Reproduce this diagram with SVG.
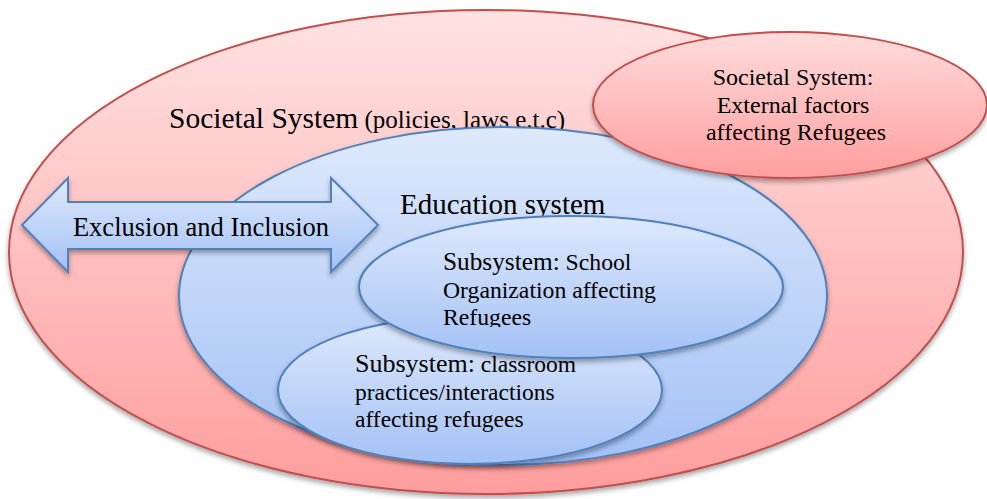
<svg xmlns="http://www.w3.org/2000/svg" width="987" height="499" viewBox="0 0 987 499">
  <defs>
    <linearGradient id="redFill" x1="0" y1="0" x2="0" y2="1">
      <stop offset="0" stop-color="#ffe2e2"/>
      <stop offset="1" stop-color="#ff9d9d"/>
    </linearGradient>
    <linearGradient id="redFillSmall" x1="0" y1="0" x2="0" y2="1">
      <stop offset="0" stop-color="#ffdcdc"/>
      <stop offset="1" stop-color="#ff9e9e"/>
    </linearGradient>
    <linearGradient id="blueFill" x1="0" y1="0" x2="0" y2="1">
      <stop offset="0" stop-color="#dee9fc"/>
      <stop offset="1" stop-color="#a3c1f5"/>
    </linearGradient>
    <filter id="shadow" x="-10%" y="-10%" width="120%" height="125%">
      <feDropShadow dx="0" dy="3" stdDeviation="2.5" flood-color="#000" flood-opacity="0.35"/>
    </filter>
    <clipPath id="schoolTextClip">
      <rect x="359" y="216" width="424" height="111"/>
    </clipPath>
    <style>
      .red { fill: url(#redFill); stroke: #c0504d; stroke-width: 2; filter: url(#shadow); }
      .redSmall { fill: url(#redFillSmall); stroke: #c0504d; stroke-width: 2; filter: url(#shadow); }
      .blue { fill: url(#blueFill); stroke: #4f81bd; stroke-width: 2; filter: url(#shadow); }
      .lbl { fill: #000; }
    </style>
  </defs>

  <g font-family="Liberation Serif, Tinos, DejaVu Serif, serif">
  <!-- outer societal system -->
  <g id="societal-system">
    <ellipse class="red" cx="486" cy="252" rx="477" ry="242"/>
    <text class="lbl" x="169" y="128"><tspan font-size="29.5">Societal System</tspan><tspan font-size="25"> (policies, laws e.t.c)</tspan></text>
  </g>

  <!-- education system -->
  <g id="education-system">
    <ellipse class="blue" cx="503" cy="296" rx="324" ry="169"/>
    <text class="lbl" x="400" y="214" font-size="29">Education system</text>
  </g>

  <!-- external factors -->
  <g id="external-factors">
    <ellipse class="redSmall" cx="790" cy="105" rx="197" ry="73"/>
    <text class="lbl" font-size="24" text-anchor="middle">
      <tspan x="796" y="85">Societal System:</tspan>
      <tspan x="796" y="113">External factors</tspan>
      <tspan x="796" y="140">affecting Refugees</tspan>
    </text>
  </g>

  <!-- two-way block arrow -->
  <g id="exclusion-inclusion">
    <path class="blue" d="M22,225 L68,178 L68,202 L331,202 L331,178 L378,225 L331,272 L331,249 L68,249 L68,272 Z"/>
    <text class="lbl" x="201" y="236" font-size="26.5" text-anchor="middle">Exclusion and Inclusion</text>
  </g>

  <!-- classroom subsystem -->
  <g id="classroom-subsystem">
    <ellipse class="blue" cx="470" cy="390" rx="192" ry="74"/>
    <text class="lbl" font-size="23.5">
      <tspan x="355" y="372"><tspan font-size="26">Subsystem:</tspan> classroom</tspan>
      <tspan x="355" y="400">practices/interactions</tspan>
      <tspan x="355" y="427">affecting refugees</tspan>
    </text>
  </g>

  <!-- school subsystem -->
  <g id="school-subsystem">
    <ellipse class="blue" cx="571" cy="287" rx="212" ry="71"/>
    <text class="lbl" font-size="23.7" clip-path="url(#schoolTextClip)">
      <tspan x="443" y="270"><tspan font-size="25.3">Subsystem:</tspan> School</tspan>
      <tspan x="443" y="298">Organization affecting</tspan>
      <tspan x="443" y="325">Refugees</tspan>
    </text>
  </g>
  </g>

  <g id="connectors"/>
</svg>
